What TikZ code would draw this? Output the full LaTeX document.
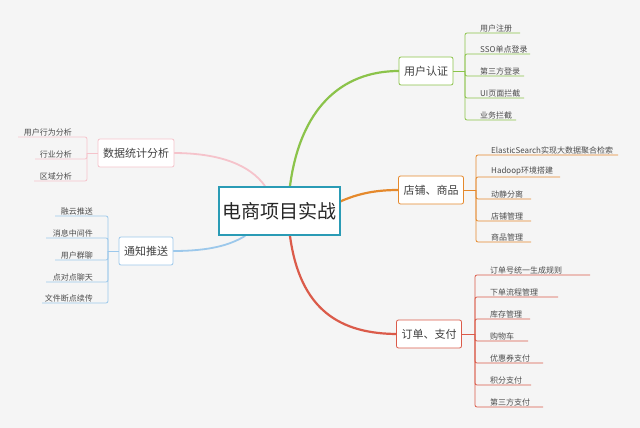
\documentclass[tikz,border=0pt]{standalone}
\usepackage{fontspec}
\setmainfont{Noto Sans CJK SC}
\begin{document}
\begin{tikzpicture}[x=1pt,y=-1pt,
  box/.style={draw=#1,line width=0.8pt,fill=white,rounded corners=2pt,minimum height=28pt,inner xsep=5pt,font=\fontsize{11}{13}\selectfont,text=black!75},
  leaf/.style={font=\fontsize{8}{9}\selectfont,text=black!70,inner sep=1pt},
  br/.style={line width=#1,line cap=round}]
\useasboundingbox[fill=black!4] (0,0) rectangle (640,428);
\definecolor{cg}{HTML}{8BC34A}\definecolor{co}{HTML}{E5892C}\definecolor{cr}{HTML}{DB5B4A}
\definecolor{cp}{HTML}{F5C3CB}\definecolor{cb}{HTML}{9CC8EB}\definecolor{ct}{HTML}{2A9BB5}
% main curves
\draw[cg,br=2.2pt] (290,186) .. controls (300,110) and (340,71) .. (399,71);
\draw[co,br=2.2pt] (337,203) .. controls (360,192) and (380,190) .. (399,190);
\draw[cr,br=2.2pt] (290,236) .. controls (300,310) and (340,334) .. (398,334);
\draw[cp,br=1.8pt] (173,153) .. controls (220,153) and (250,165) .. (265,186);
\draw[cb,br=1.8pt] (173,251) .. controls (210,251) and (230,245) .. (245,236);
\node[draw=ct,line width=2.5pt,fill=white,minimum width=113pt,minimum height=48pt,font=\fontsize{19}{22}\selectfont,text=black!85] (c) at (279.5,211) {电商项目实战};
\node[box=cg] (a) at (426,71) {用户认证};
\node[box=co] (b) at (431,190) {店铺、商品};
\node[box=cr] (d) at (429,334) {订单、支付};
\node[box=cp] (e) at (136,153) {数据统计分析};
\node[box=cb] (f) at (146,251) {通知推送};
% right groups
\def\rgroup#1#2#3#4#5{%
 \draw[#1,line width=0.8pt] (#2.east) -- (#3,#4);
 \foreach \t/\y/\w [count=\i] in {#5}{
   \draw[#1,line width=0.8pt,rounded corners=2pt] (#3,#4) |- (\w,\y);
   \node[leaf,anchor=south west] (n\i) at (#3+14,\y) {\t};}}
\rgroup{cg}{a}{465}{71}{用户注册/33/520,SSO单点登录/54/530,第三方登录/76/524,UI页面拦截/98/524,业务拦截/120/516}
\rgroup{co}{b}{476}{190}{ElasticSearch实现大数据聚合检索/155/618,Hadoop环境搭建/177/560,动静分离/199/531,店铺管理/221/531,商品管理/242/531}
\rgroup{cr}{d}{475}{334}{订单号统一生成规则/275/590,下单流程管理/297/558,库存管理/319/530,购物车/341/528,优惠券支付/363/543,积分支付/385/531,第三方支付/407/543}
\def\lgroup#1#2#3#4#5{%
 \draw[#1,line width=0.8pt] (#2.west) -- (#3,#4);
 \foreach \t/\y/\w [count=\i] in {#5}{
   \draw[#1,line width=0.8pt,rounded corners=2pt] (#3,#4) |- (\w,\y);
   \node[leaf,anchor=south east] (m\i) at (#3-14,\y) {\t};}}
\lgroup{cp}{e}{87}{153}{用户行为分析/137/18,行业分析/159/35,区域分析/181/34}
\lgroup{cb}{f}{108}{251}{融云推送/216/55,消息中间件/238/46,用户群聊/260/55,点对点聊天/282/46,文件断点续传/303/42}
\end{tikzpicture}
\end{document}
